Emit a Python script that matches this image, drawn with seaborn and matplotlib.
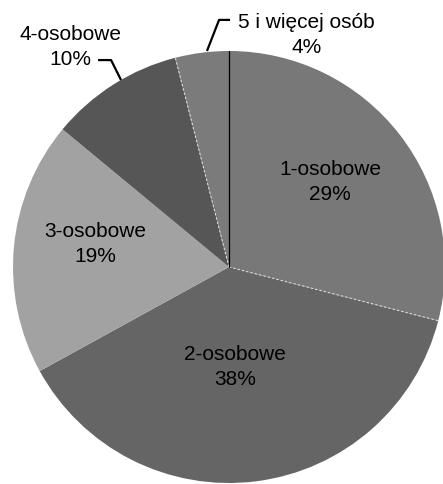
import numpy as np
import matplotlib
matplotlib.use("Agg")
import matplotlib.pyplot as plt
import seaborn as sns

# =====================================
# DATA
# =====================================

categories = ["1-osobowe", "2-osobowe", "3-osobowe", "4-osobowe", "5 i więcej osób"]
shares = [29, 38, 19, 10, 4]
colors = ["#787878", "#656565", "#a2a2a2", "#565656", "#7b7b7b"]

# label positions (pie units, radius = 1)
inside_pos = {
    "1-osobowe": (0.468, 0.40),
    "2-osobowe": (0.028, -0.46),
    "3-osobowe": (-0.62, 0.11),
}
outside_pos = {
    "4-osobowe": (-0.736, 1.025),
    "5 i więcej osób": (0.36, 1.08),
}
leaders = {
    "4-osobowe": ([-0.606, -0.546, -0.5], [0.958, 0.958, 0.866]),
    "5 i więcej osób": ([0.005, -0.046, -0.102], [1.144, 1.144, 1.0]),
}

# =====================================
# PLOT
# =====================================

sns.set_theme(style="white")
plt.rcParams["font.family"] = ["Liberation Sans", "DejaVu Sans"]

fig = plt.figure(figsize=(4.43, 4.85), dpi=100)
r_px = 216
cx, cy = 229, 268
ax = fig.add_axes([(cx - r_px) / 443, (485 - cy - r_px) / 485,
                   2 * r_px / 443, 2 * r_px / 485])

wedges, _ = ax.pie(
    shares,
    colors=colors,
    startangle=90,
    counterclock=False,
    radius=1,
    wedgeprops=dict(linewidth=0),
)
ax.set_xlim(-1, 1)
ax.set_ylim(-1, 1)
ax.set_aspect("equal")
ax.axis("off")
for w in wedges:
    w.set_clip_on(False)

# slice boundaries
bounds = 90 - 360 * np.cumsum([0] + shares) / sum(shares)
for i in [1, 4]:
    a = np.deg2rad(bounds[i])
    ax.plot([0, np.cos(a)], [0, np.sin(a)], color="#dddddd",
            lw=0.8, ls=(0, (2, 2)), clip_on=False)
ax.plot([0, 0], [0, 1], color="black", lw=0.9)

for cat, share in zip(categories, shares):
    txt = f"{cat}\n{share}%"
    if cat in inside_pos:
        x, y = inside_pos[cat]
    else:
        x, y = outside_pos[cat]
        lx, ly = leaders[cat]
        ax.plot(lx, ly, color="black", lw=1.6, clip_on=False,
                solid_capstyle="butt")
    ax.text(x, y, txt, ha="center", va="center", fontsize=15,
            color="black", linespacing=1.4, clip_on=False)

fig.savefig("out.png", dpi=100)
